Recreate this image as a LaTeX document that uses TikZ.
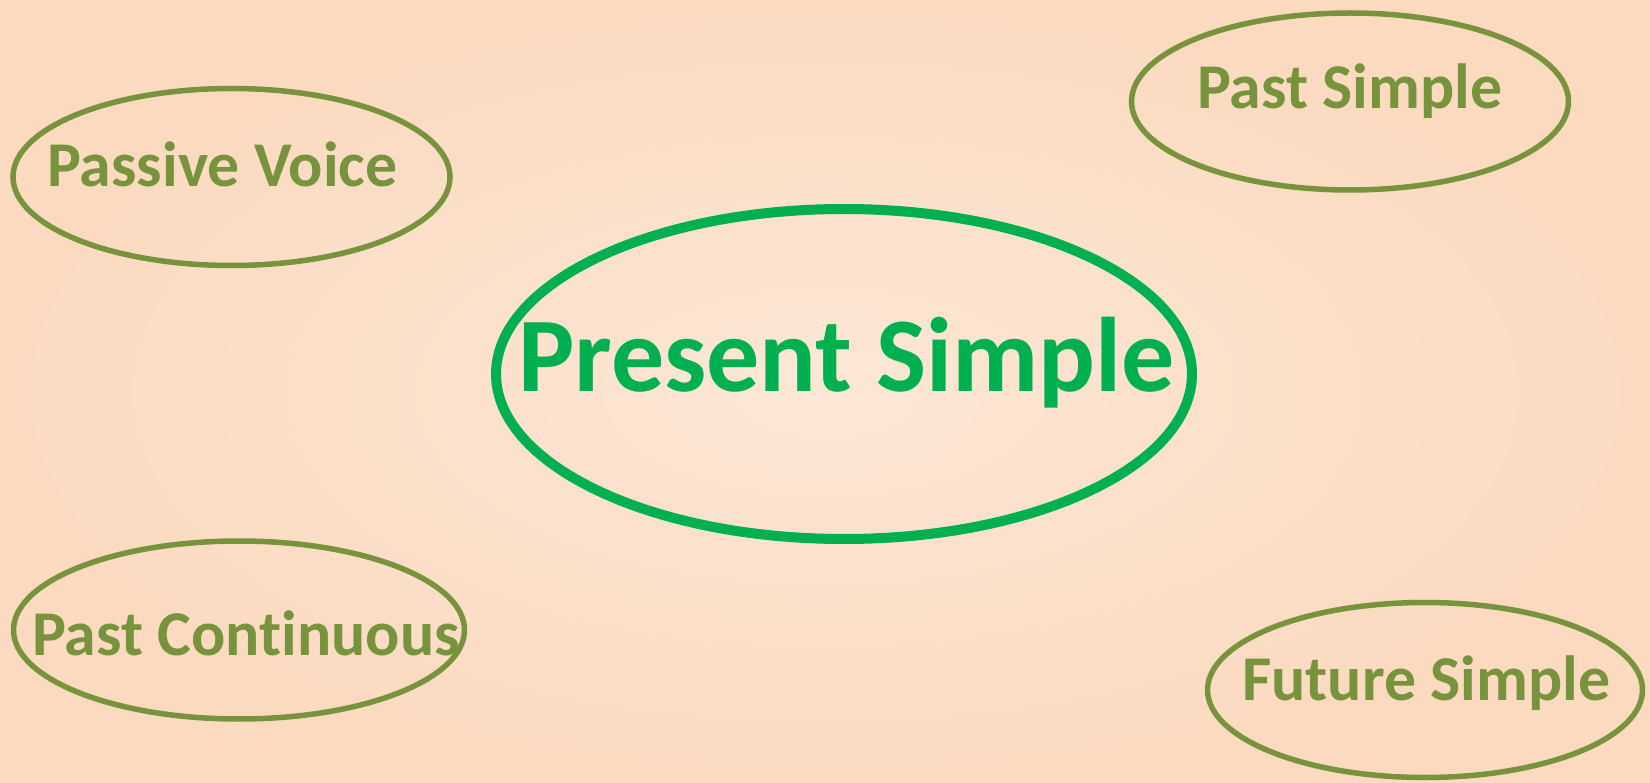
\documentclass[tikz,border=0pt]{standalone}
\usepackage{fontspec}
\setmainfont[Ligatures=NoCommon]{Carlito}
\usetikzlibrary{shapes.geometric}
\definecolor{olive}{HTML}{77933C}
\definecolor{psgreen}{HTML}{00B050}
\definecolor{bgin}{HTML}{FCE7D6}
\definecolor{bgout}{HTML}{FBDAC0}
\begin{document}
\begin{tikzpicture}[x=1pt,y=-1pt,
  oval/.style={ellipse,draw=olive,line width=5.5pt,inner sep=0pt},
  bigoval/.style={ellipse,draw=psgreen,line width=10pt,inner sep=0pt},
  lbl/.style={anchor=base west,inner sep=0pt,text=olive,font=\fontsize{63.8}{70}\selectfont\bfseries},
  biglbl/.style={anchor=base west,inner sep=0pt,text=psgreen,font=\fontsize{106}{110}\selectfont\bfseries}]
\shade[inner color=bgin,outer color=bgout] (0,0) rectangle (1650,783);
\useasboundingbox (0,0) rectangle (1650,783);
\node[bigoval,minimum width=696pt,minimum height=330pt] (ps) at (844,374) {};
\node[oval,minimum width=437pt,minimum height=177pt] (pv) at (231.5,177) {};
\node[oval,minimum width=437pt,minimum height=177pt] (pas) at (1350,101.5) {};
\node[oval,minimum width=451pt,minimum height=178pt] (pc) at (239,630) {};
\node[oval,minimum width=435pt,minimum height=175pt] (fs) at (1425,690) {};
\node[biglbl] (tps) at (518,392) {Present Simple};
\node[lbl] (tpv) at (47,187) {Passive Voice};
\node[lbl] (tpas) at (1197,109) {Past Simple};
\node[lbl] (tpc) at (32,655) {Past Continuous};
\node[lbl] (tfs) at (1242,700) {Future Simple};
\end{tikzpicture}
\end{document}
